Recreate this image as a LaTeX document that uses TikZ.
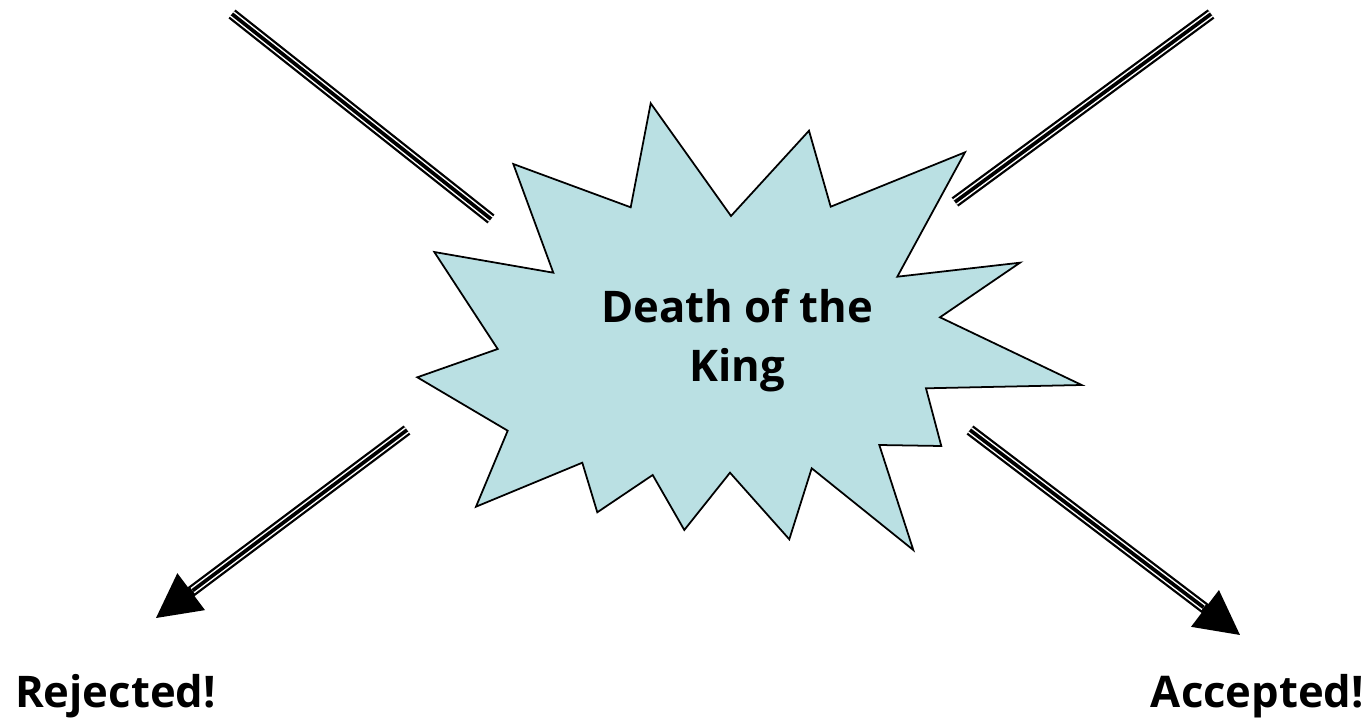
\documentclass[tikz,border=0pt]{standalone}
\usepackage{fontspec}
\setmainfont{Open Sans}
\usetikzlibrary{arrows.meta}

\definecolor{burstblue}{RGB}{186,224,227}

\tikzset{
    rail/.style={line width=3.2pt},
    railgap/.style={white, line width=1.9pt},
    railcore/.style={line width=1.05pt},
    verdict/.style={font=\bfseries\fontsize{12.4}{14}\selectfont, anchor=base},
}

\begin{document}
\begin{tikzpicture}[x=0.01cm, y=-0.01cm]
    \useasboundingbox (0,0) rectangle (1372,718);

    % Burst
    \draw[line width=0.5pt, fill=burstblue, line join=miter]
        (650.7,103.3) -- (731,216) -- (809,130.7) -- (830.7,206.7)
        -- (965,152.3) -- (897.3,276.7) -- (1020,262.7) -- (940,317.3)
        -- (1081.7,385) -- (926,388.3) -- (941.3,446) -- (879.3,445)
        -- (913.3,550) -- (811.7,468.3) -- (789.3,539.3) -- (730,472.7)
        -- (684.3,530) -- (652.7,475) -- (597.3,512.3) -- (582.3,462.7)
        -- (476,506.7) -- (507.7,430.7) -- (417.3,377.3) -- (497.7,349)
        -- (434.3,252) -- (553.3,272.7) -- (513.3,164) -- (630.7,207.3)
        -- cycle;
    \node[font=\bfseries\fontsize{12.4}{16.8}\selectfont, align=center] (king) at (737,341) {Death of the\\King};

    % Rails coming in
    \coordinate (ulA) at (232,14);
    \coordinate (ulB) at (491,219);
    \coordinate (urA) at (1211,14);
    \coordinate (urB) at (955,202);
    \foreach \a/\b in {ulA/ulB, urA/urB} {
        \draw[rail] (\a) -- (\b);
        \draw[railgap] (\a) -- (\b);
        \draw[railcore] (\a) -- (\b);
    }

    % Rails going out
    \coordinate (dlA) at (407,430);
    \coordinate (dlB) at (156,618);
    \coordinate (drA) at (970,430);
    \coordinate (drB) at (1240,635);
    \foreach \a/\b in {dlA/dlB, drA/drB} {
        \draw[rail, -{Triangle[length=12.5pt, width=13pt, line width=0.5pt]}] (\a) -- (\b);
        \draw[railgap, shorten >=13pt] (\a) -- (\b);
        \draw[railcore, shorten >=13pt] (\a) -- (\b);
    }

    % Outcomes
    \node[verdict] (rejected) at (115.5,707) {Rejected!};
    \node[verdict] (accepted) at (1257.5,707) {Accepted!};
\end{tikzpicture}
\end{document}
